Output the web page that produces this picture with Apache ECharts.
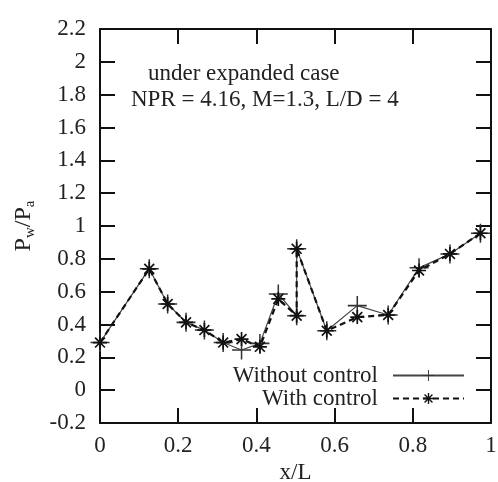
<!DOCTYPE html>
<html>
<head>
<meta charset="utf-8">
<script src="https://cdn.jsdelivr.net/npm/echarts@6/dist/echarts.min.js"></script>
<style>
html, body { margin: 0; padding: 0; background: #fff; }
#chart { width: 498px; height: 482px; }
</style>
</head>
<body>
<div id="chart"></div>
<script>
// x/L positions of the wall pressure taps
var xPos = [0, 0.126, 0.173, 0.22, 0.267, 0.315, 0.362, 0.409, 0.456, 0.503, 0.503, 0.58, 0.658, 0.737, 0.816, 0.895, 0.973];
var withoutControl = [0.29, 0.74, 0.525, 0.413, 0.366, 0.29, 0.245, 0.285, 0.586, 0.454, 0.861, 0.362, 0.515, 0.458, 0.745, 0.83, 0.956];
var withControl = [0.29, 0.739, 0.525, 0.413, 0.366, 0.29, 0.311, 0.264, 0.556, 0.454, 0.861, 0.362, 0.445, 0.458, 0.729, 0.83, 0.956];
var seriesNames = ['Without control', 'With control'];
var noteLines = ['under expanded case', 'NPR = 4.16, M=1.3, L/D = 4'];

var font = 'Liberation Serif';
var plusPath = 'path://M-0.8,-10L0.8,-10L0.8,10L-0.8,10Z M-10,-0.8L10,-0.8L10,0.8L-10,0.8Z';
var starPath = 'path://M-1.2,-10L1.2,-10L1.2,10L-1.2,10Z M-10,-1.2L10,-1.2L10,1.2L-10,1.2Z ' +
  'M-7.9,-6.2L-6.2,-7.9L7.9,6.2L6.2,7.9Z M6.2,-7.9L7.9,-6.2L-6.2,7.9L-7.9,6.2Z';

function pairs(xs, ys) {
  return xs.map(function (x, i) { return [x, ys[i]]; });
}

var chart = echarts.init(document.getElementById('chart'), null, {renderer: 'canvas'});
var axisLine = {show: true, onZero: false, lineStyle: {color: '#111', width: 2}};
var tick = {inside: true, length: 15, lineStyle: {color: '#111', width: 2}};
var option = {
  animation: false,
  grid: {left: 100, right: 7, top: 29, bottom: 59, containLabel: false, outerBoundsMode: 'none'},
  xAxis: [{
    type: 'value', min: 0, max: 1, interval: 0.2,
    name: 'x/L', nameLocation: 'middle', nameGap: 35,
    nameTextStyle: {fontFamily: font, fontSize: 23, color: '#222'},
    axisLine: axisLine, axisTick: tick,
    axisLabel: {fontFamily: font, fontSize: 23, color: '#222', margin: 11},
    splitLine: {show: false}
  }, {
    type: 'value', position: 'top', min: 0, max: 1, interval: 0.2,
    axisLine: axisLine, axisTick: tick,
    axisLabel: {show: false},
    splitLine: {show: false}
  }],
  yAxis: [{
    type: 'value', min: -0.2, max: 2.2, interval: 0.2,
    name: 'P{sub|w}/P{sub|a}', nameLocation: 'middle', nameGap: 62, nameRotate: 90,
    nameTextStyle: {fontFamily: font, fontSize: 24, color: '#222',
      rich: {sub: {fontFamily: font, fontSize: 15, color: '#222', verticalAlign: 'bottom', padding: [14, 0, 0, 0]}}},
    axisLine: axisLine, axisTick: tick,
    axisLabel: {fontFamily: font, fontSize: 23, color: '#222', margin: 14},
    splitLine: {show: false}
  }, {
    type: 'value', position: 'right', min: -0.2, max: 2.2, interval: 0.2,
    axisLine: axisLine, axisTick: tick,
    axisLabel: {show: false},
    splitLine: {show: false}
  }],
  legend: {
    right: 28, top: 359, orient: 'vertical', align: 'right', itemGap: 0,
    itemWidth: 71, itemHeight: 14,
    textStyle: {fontFamily: font, fontSize: 23, color: '#222', padding: [0, 10, 0, 0]},
    data: seriesNames
  },
  graphic: [{
    type: 'text', left: 148, top: 62,
    style: {text: noteLines[0], font: '23px "Liberation Serif"', fill: '#222'}
  }, {
    type: 'text', left: 131, top: 88,
    style: {text: noteLines[1], font: '23px "Liberation Serif"', fill: '#222'}
  }],
  series: [{
    name: seriesNames[0], type: 'line',
    data: pairs(xPos, withoutControl),
    symbol: plusPath, symbolSize: 19,
    itemStyle: {color: '#333'},
    lineStyle: {color: '#444', width: 1.2, type: 'solid'},
    z: 2
  }, {
    name: seriesNames[1], type: 'line',
    data: pairs(xPos, withControl),
    symbol: starPath, symbolSize: 14,
    itemStyle: {color: '#111'},
    lineStyle: {color: '#111', width: 2.2, type: [6, 4]},
    z: 3
  }]
};
chart.setOption(option);
</script>
</body>
</html>
